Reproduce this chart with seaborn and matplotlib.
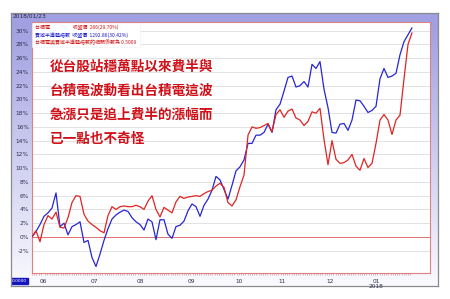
import numpy as np
import pandas as pd
import matplotlib
matplotlib.use("Agg")
import matplotlib.pyplot as plt
import seaborn as sns
from matplotlib.patches import Rectangle

# ---------------- data ----------------
tsmc = [0.0, 0.9, -0.7, 1.8, 3.1, 2.6, 3.6, 1.4, 1.3, 2.8, 5.0, 6.0, 5.9, 3.3, 2.3, 1.8,
        1.4, 0.9, 0.6, 3.1, 4.4, 4.0, 4.4, 4.5, 4.4, 4.4, 4.6, 4.4, 4.0, 5.2, 6.0, 4.0,
        2.9, 4.3, 3.9, 3.5, 5.1, 5.9, 5.6, 5.8, 5.9, 6.0, 5.9, 6.3, 6.6, 6.8, 7.4, 7.8,
        7.2, 5.0, 4.5, 5.4, 7.3, 9.0, 14.8, 16.0, 15.8, 15.9, 16.2, 16.5, 15.3, 17.8, 18.5, 17.4,
        18.3, 18.6, 17.3, 17.0, 16.2, 16.8, 18.2, 18.0, 18.7, 14.2, 10.5, 14.0, 11.3, 10.7, 10.8, 11.2,
        12.0, 10.3, 9.7, 11.4, 10.1, 10.7, 13.6, 17.0, 17.8, 17.0, 14.9, 17.0, 17.7, 23.0, 28.0, 29.7]
sox = [0.0, 0.8, 1.8, 3.0, 3.5, 4.2, 6.4, 1.5, 2.0, 0.3, 1.5, 1.8, 2.2, -0.8, -0.5, -3.0,
       -4.3, -2.5, -0.5, 1.2, 2.6, 3.2, 3.6, 3.9, 3.7, 2.8, 2.2, 1.8, 1.0, 2.6, 2.2, -0.4,
       2.5, 2.5, 0.4, -0.2, 1.5, 1.7, 2.3, 3.8, 4.8, 4.4, 3.0, 4.6, 5.5, 6.8, 8.8, 8.3,
       6.9, 5.5, 7.5, 9.6, 10.2, 11.2, 13.6, 13.6, 14.8, 14.8, 15.2, 16.4, 15.2, 18.5, 19.3, 21.2,
       23.2, 23.4, 21.8, 22.0, 22.6, 21.8, 25.1, 24.5, 25.5, 21.5, 18.8, 15.2, 15.1, 16.4, 16.5, 15.5,
       17.0, 19.9, 19.8, 19.0, 18.1, 18.4, 19.0, 23.0, 24.5, 23.2, 23.4, 23.8, 26.5, 28.4, 29.4, 30.42]
series_names = ["台積電", "費城半導體指數"]
month_labels = ["06", "07", "08", "09", "10", "11", "12", "01\n2018"]
month_pos = [2.75, 15.5, 27, 39.75, 51.75, 62.5, 74.5, 86]
y_ticks = list(range(-2, 31, 2))
date_label = "2018/01/23"
legend_lines = [
    ("台積電                    收盤價  266(29.70%)", "#d01818"),
    ("費城半導體指數  收盤價  1292.86(30.42%)", "#1818c8"),
    ("台積電與費城半導體指數的相關係數為 0.5009", "#d01818"),
]
note_lines = ["從台股站穩萬點以來費半與", "台積電波動看出台積電這波",
              "急漲只是追上費半的漲幅而", "已一點也不奇怪"]

df = pd.concat([
    pd.DataFrame({"day": np.arange(len(tsmc)), "pct": tsmc, "name": series_names[0]}),
    pd.DataFrame({"day": np.arange(len(sox)), "pct": sox, "name": series_names[1]}),
])

sns.set_style("white")
plt.rcParams["font.family"] = ["Noto Sans CJK TC", "DejaVu Sans"]

W, H = 450, 299
fig = plt.figure(figsize=(4.5, 2.99), dpi=100)
fig.patch.set_facecolor("white")

def fx(px):
    return px / W

def fy(py):
    return 1 - py / H

# frame with vertical purple->white gradient
bg = fig.add_axes([fx(10.7), fy(286), fx(438 - 10.7), (286 - 12.7) / H], zorder=0)
grad = np.linspace(0, 1, 256).reshape(-1, 1)
top = np.array([156, 156, 224]) / 255
bot = np.array([250, 250, 255]) / 255
img = top[None, None, :] * (1 - grad[:, :, None]) + bot[None, None, :] * grad[:, :, None]
bg.imshow(img, aspect="auto", extent=[0, 1, 0, 1], origin="upper")
bg.set_xlim(0, 1); bg.set_ylim(0, 1)
bg.set_xticks([]); bg.set_yticks([])
for s in bg.spines.values():
    s.set_color("#8a8a8a"); s.set_linewidth(0.9)
# title bar
bg.add_patch(Rectangle((0, (286 - 21) / (286 - 12.7)), 1, 1, color="#a0a0e2", zorder=1))
bg.text(0.005, (286 - 16.5) / (286 - 12.7), date_label, fontsize=4.2, color="#202040",
        va="center", ha="left", zorder=3, family="DejaVu Sans")
# small blue box bottom left
bg.add_patch(Rectangle((0, (286 - 284) / (286 - 12.7)), (28 - 10.7) / (438 - 10.7),
                       6 / (286 - 12.7), color="#1414c0", zorder=2))
bg.text(0.002, (286 - 281) / (286 - 12.7), "0.0000", fontsize=3.2, color="white",
        va="center", ha="left", zorder=3, family="DejaVu Sans")

# main plot
ax = fig.add_axes([fx(31.7), fy(273.3), fx(430 - 31.7), (273.3 - 22) / H], zorder=2)
ax.set_facecolor("white")
for yv in y_ticks:
    ax.axhline(yv, color="#e07070" if yv == 0 else "#e2e2e2", lw=0.7, zorder=0)
sns.lineplot(data=df, x="day", y="pct", hue="name",
             palette={series_names[0]: "#e02424", series_names[1]: "#2626d8"},
             hue_order=[series_names[1], series_names[0]],
             lw=0.9, ax=ax, legend=False, zorder=3)
ax.set_xlim(-0.075, 99.5)
ax.set_ylim(-5.29, 31.26)
ax.set_xlabel(""); ax.set_ylabel("")
ax.set_yticks(y_ticks)
ax.set_yticklabels([f"{v}%" for v in y_ticks], fontsize=4.2, color="#303050",
                   family="DejaVu Sans")
ax.set_xticks(month_pos)
ax.set_xticklabels(month_labels, fontsize=4.2, color="#303050", linespacing=1.0,
                   family="DejaVu Sans")
ax.set_xticks(np.arange(0, 95, 0.55), minor=True)
ax.tick_params(axis="y", length=0, pad=2)
ax.tick_params(axis="x", which="major", length=3, width=0.5, color="#d06060", pad=1,
               direction="out")
ax.tick_params(axis="x", which="minor", length=1.5, width=0.4, color="#d08080",
               direction="out", bottom=True)
for s in ax.spines.values():
    s.set_color("#e08080"); s.set_linewidth(0.8)

# legend box
ax.add_patch(Rectangle((0.0, 1 - (47 - 22) / (273.3 - 22)), (140 - 31.7) / (430 - 31.7),
                       (47 - 22.5) / (273.3 - 22), transform=ax.transAxes,
                       facecolor="white", edgecolor="#f0f0f0", lw=0.4, zorder=4))
for i, (txt, col) in enumerate(legend_lines):
    fig.text(fx(35), fy(27.5 + 7.5 * i), txt, fontsize=3.6, color=col,
             va="center", ha="left", zorder=10)

for i, line in enumerate(note_lines):
    fig.text(fx(50), fy(66.5 + 24.3 * i), line, fontsize=9.8, color="#d01018",
             fontweight="bold", va="center", ha="left", zorder=10)

fig.savefig("out.png", dpi=100, facecolor="white")
